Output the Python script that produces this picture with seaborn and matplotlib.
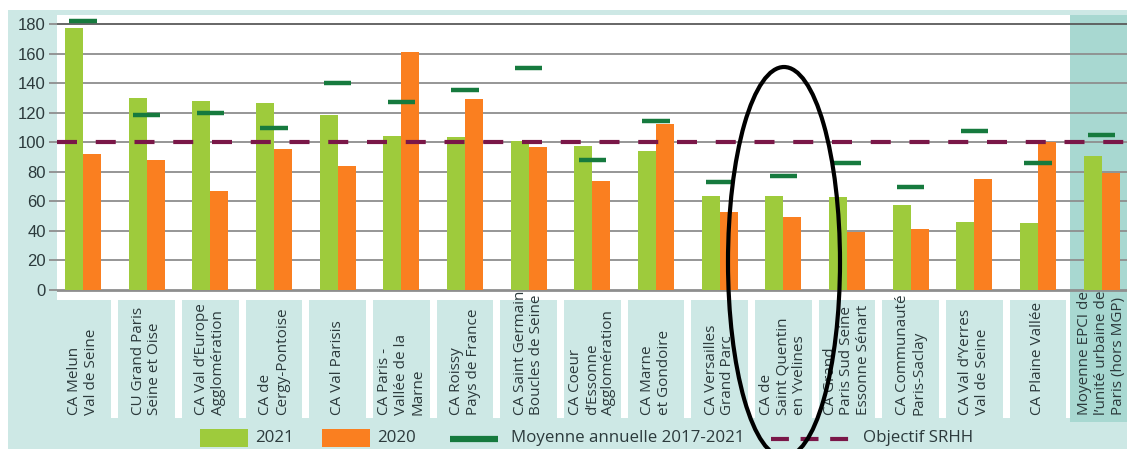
import matplotlib
matplotlib.use("Agg")
import matplotlib.pyplot as plt
import matplotlib.transforms as mtransforms
from matplotlib.patches import Rectangle, Ellipse
from matplotlib.lines import Line2D
import seaborn as sns
import pandas as pd
import numpy as np

# ---------------- data ----------------
categories = [
    "CA Melun\nVal de Seine",
    "CU Grand Paris\nSeine et Oise",
    "CA Val d’Europe\nAgglomération",
    "CA de\nCergy-Pontoise",
    "CA Val Parisis",
    "CA Paris -\nVallée de la\nMarne",
    "CA Roissy\nPays de France",
    "CA Saint Germain\nBoucles de Seine",
    "CA Coeur\nd’Essonne\nAgglomération",
    "CA Marne\net Gondoire",
    "CA Versailles\nGrand Parc",
    "CA de\nSaint Quentin\nen Yvelines",
    "CA Grand\nParis Sud Seine\nEssonne Sénart",
    "CA Communauté\nParis-Saclay",
    "CA Val d’Yerres\nVal de Seine",
    "CA Plaine Vallée",
    "Moyenne EPCI de\nl’unité urbaine de\nParis (hors MGP)",
]
values_2021 = [177, 130, 128, 126.5, 118, 104, 103.5, 101, 97.5, 94, 63.5, 63.5, 62.5, 57, 45.5, 45, 90.5]
values_2020 = [92, 88, 67, 95, 84, 161, 129, 96.5, 73.5, 112, 52.5, 49.5, 39, 41, 75, 100, 79]
moyenne_2017_2021 = [182, 118, 119.5, 109.5, 140, 127, 135.5, 150, 88, 114, 73, 77, 86, 69.5, 107.5, 86, 105]
objectif_srhh = 100
series_names = ["2021", "2020"]
yticks = list(range(0, 181, 20))
legend_labels = ["2021", "2020", "Moyenne annuelle 2017-2021", "Objectif SRHH"]

# ---------------- style ----------------
TEAL = "#cde8e5"
TEAL_DARK = "#a8d8d1"
GREEN = "#9ecb3c"
ORANGE = "#fa7f20"
DKGREEN = "#167a3e"
MAROON = "#7a1748"
GRID = "#8e8e8e"
TXT = "#2c3a3c"
FONT = "Open Sans"

W, H = 1127, 449
fig = plt.figure(figsize=(W / 100, H / 100), dpi=100)
fig.patch.set_facecolor("white")
fig.add_artist(Rectangle((8 / W, 0), 1 - 8 / W, (H - 10) / H, transform=fig.transFigure,
                         facecolor=TEAL, edgecolor="none", zorder=0))

ax = fig.add_axes([57 / W, 149 / H, 1070 / W, 285 / H])
ax.set_facecolor("white")

df = pd.DataFrame({
    "EPCI": categories * 2,
    "Année": [series_names[0]] * len(categories) + [series_names[1]] * len(categories),
    "Valeur": values_2021 + values_2020,
})
sns.barplot(data=df, x="EPCI", y="Valeur", hue="Année", hue_order=series_names,
            palette=[GREEN, ORANGE], saturation=1, width=0.566, gap=0,
            errorbar=None, legend=False, ax=ax, zorder=3)

n = len(categories)
xpos = np.arange(n)
x0, x1 = -0.408, 16.40
ax.set_xlim(x0, x1)
ax.set_ylim(-7.1, 186.1)

# highlight of the average column
ax.axvspan(n - 1.5, x1, color=TEAL_DARK, zorder=0.2, lw=0)

# grid / ticks
ax.set_yticks(yticks)
ax.yaxis.grid(True, color=GRID, lw=1.3, zorder=1)
ax.set_axisbelow(True)
ax.get_ygridlines()[-1].set_color("#5a5a5a")
ax.get_ygridlines()[0].set_linewidth(2.0)
for s in ax.spines.values():
    s.set_visible(False)
ax.set_xticks(xpos)
ax.set_xticklabels([])
ax.tick_params(axis="x", length=0)
ax.tick_params(axis="y", length=6, width=1.3, color=GRID, pad=2, labelsize=12, labelcolor=TXT)
for t in ax.get_yticklabels():
    t.set_fontfamily("Liberation Sans")
ax.set_xlabel("")
ax.set_ylabel("")

# annual average markers
ax.hlines(moyenne_2017_2021, xpos - 0.215, xpos + 0.215, color=DKGREEN, lw=3.2, zorder=4)
# objective line
ax.axhline(objectif_srhh, color=MAROON, lw=3, dashes=(4.8, 4.5), zorder=5)

# label area boxes
trans = mtransforms.blended_transform_factory(ax.transData, ax.transAxes)
ybot = (31 - 149) / 285
ax.add_patch(Rectangle((x0, ybot), x1 - x0, -ybot, transform=trans, facecolor="white",
                       edgecolor="none", clip_on=False, zorder=0.1))
inset = 0.055
for i in range(n - 1):
    left = x0 if i == 0 else i - 0.5 + inset
    right = i + 0.5 - inset
    ax.add_patch(Rectangle((left, ybot), right - left, -ybot, transform=trans, facecolor=TEAL,
                           edgecolor="none", clip_on=False, zorder=0.15))
ybot2 = (27 - 149) / 285
ax.add_patch(Rectangle((n - 1.5, ybot2), x1 - (n - 1.5), -ybot2, transform=trans,
                       facecolor=TEAL_DARK, edgecolor="none", clip_on=False, zorder=0.15))

ylab = (34 - 149) / 285
for i, lab in enumerate(categories):
    ax.text(i, ylab, lab, transform=trans, rotation=90, ha="center", va="bottom",
            multialignment="left", fontsize=11, color=TXT, family=FONT,
            linespacing=1.15, clip_on=False, zorder=6)

# legend (drawn in figure pixels)
def fx(px):
    return px / W
def fy(py):
    return 1 - py / H

ly = 438
fs_leg = 12.2
fig.add_artist(Rectangle((fx(200), fy(447)), 48 / W, 18 / H, transform=fig.transFigure,
                         facecolor=GREEN, edgecolor="none"))
fig.text(fx(255), fy(ly), legend_labels[0], ha="left", va="center", fontsize=fs_leg, color=TXT, family=FONT)
fig.add_artist(Rectangle((fx(322), fy(447)), 48 / W, 18 / H, transform=fig.transFigure,
                         facecolor=ORANGE, edgecolor="none"))
fig.text(fx(377), fy(ly), legend_labels[1], ha="left", va="center", fontsize=fs_leg, color=TXT, family=FONT)
fig.add_artist(Line2D([fx(450), fx(498)], [fy(439), fy(439)], transform=fig.transFigure,
                      color=DKGREEN, lw=4.5, solid_capstyle="butt"))
fig.text(fx(511), fy(ly), legend_labels[2], ha="left", va="center", fontsize=fs_leg, color=TXT, family=FONT)
fig.add_artist(Line2D([fx(771), fx(857)], [fy(439), fy(439)], transform=fig.transFigure,
                      color=MAROON, lw=3, dashes=(4.3, 2.8)))
fig.text(fx(863), fy(ly), legend_labels[3], ha="left", va="center", fontsize=fs_leg, color=TXT, family=FONT)

# hand-drawn circle around Saint Quentin en Yvelines
fig.add_artist(Ellipse((fx(784), fy(262)), 112 / W, 390 / H, transform=fig.transFigure,
                       fill=False, edgecolor="black", lw=3, zorder=10))

fig.savefig("out.png", dpi=100, facecolor=fig.get_facecolor())
